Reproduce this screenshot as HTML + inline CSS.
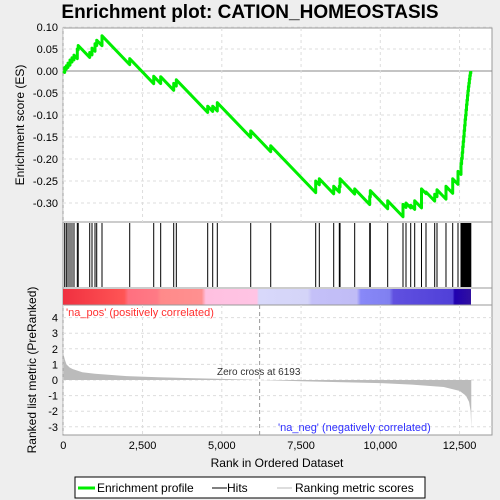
<!DOCTYPE html>
<html><head><meta charset="utf-8"><style>body{margin:0;background:#eeeeee}svg{display:block;font-family:"Liberation Sans",sans-serif}</style></head>
<body>
<svg id="c" width="500" height="500" xmlns="http://www.w3.org/2000/svg">
<text x="250" y="18" text-anchor="middle" font-size="19" font-weight="bold">Enrichment plot: CATION_HOMEOSTASIS</text>
<rect x="63" y="28" width="429" height="194" fill="#fff" stroke="#999"/>
<rect x="63" y="222" width="429" height="66" fill="#fff" stroke="#999"/>
<defs><linearGradient id="rb" x1="0" x2="1">
<stop offset="0" stop-color="#f03040"/><stop offset="0.15" stop-color="#ff5555"/><stop offset="0.16" stop-color="#ff7080"/><stop offset="0.23" stop-color="#ff7a85"/><stop offset="0.24" stop-color="#ff8a8a"/><stop offset="0.34" stop-color="#ff9090"/><stop offset="0.35" stop-color="#ffc0e0"/><stop offset="0.475" stop-color="#ffc4e4"/><stop offset="0.48" stop-color="#d8d8fa"/><stop offset="0.6" stop-color="#d4d4f8"/><stop offset="0.61" stop-color="#c4c0f8"/><stop offset="0.72" stop-color="#c0bcf6"/><stop offset="0.73" stop-color="#8888f8"/><stop offset="0.8" stop-color="#8080f0"/><stop offset="0.81" stop-color="#6050e0"/><stop offset="0.955" stop-color="#5040d8"/><stop offset="0.96" stop-color="#2000b0"/><stop offset="1" stop-color="#3010a0"/></linearGradient></defs>
<rect x="63" y="288" width="429" height="17" fill="#fff" stroke="#999"/>
<rect x="63" y="289" width="408" height="16" fill="url(#rb)"/>
<rect x="63" y="305" width="429" height="130" fill="#fff" stroke="#999"/>
<g id="g"></g>
<text x="66" y="316" font-size="11" fill="#ff3030">'na_pos' (positively correlated)</text>
<text x="278" y="431" font-size="11" fill="#3030ff">'na_neg' (negatively correlated)</text>
<text x="217" y="375" font-size="10" fill="#333">Zero cross at 6193</text>
<text x="0" y="0" transform="translate(24,125) rotate(-90)" text-anchor="middle" font-size="12">Enrichment score (ES)</text>
<text x="0" y="0" transform="translate(36,370) rotate(-90)" text-anchor="middle" font-size="12">Ranked list metric (PreRanked)</text>
<text x="277" y="467" text-anchor="middle" font-size="12">Rank in Ordered Dataset</text>
<g>
<rect x="75" y="477" width="350" height="21" fill="#fff" stroke="#000"/>
<line x1="78" y1="488" x2="95" y2="488" stroke="#00ee00" stroke-width="3"/>
<text x="97" y="492" font-size="12">Enrichment profile</text>
<line x1="212" y1="488" x2="227" y2="488" stroke="#000"/>
<text x="227" y="492" font-size="12">Hits</text>
<line x1="277" y1="488" x2="292" y2="488" stroke="#bbb"/>
<text x="295" y="492" font-size="12">Ranking metric scores</text>
</g>
</svg>
<script>
const hitRanks=[44,95,148,211,274,337,442,470,833,905,1000,1054,1221,2095,2852,3072,3483,3565,4555,4713,4858,5912,6543,7962,8076,8530,8707,8730,9192,9666,9685,10233,10716,10811,10959,11085,11300,11442,11716,11789,12072,12284,12451,12546,12565,12585,12600,12615,12630,12645,12660,12675,12690,12705,12720,12735,12750,12765,12780,12795,12810,12825,12840,12855];
const esAfter=[0.008,0.012,0.018,0.025,0.03,0.036,0.05,0.058,0.042,0.052,0.062,0.07,0.08,0.028,-0.012,-0.013,-0.028,-0.02,-0.08,-0.08,-0.072,-0.136,-0.17,-0.25,-0.245,-0.262,-0.262,-0.245,-0.268,-0.285,-0.272,-0.295,-0.303,-0.3,-0.305,-0.295,-0.268,-0.275,-0.28,-0.27,-0.262,-0.245,-0.228,-0.21,-0.198,-0.185,-0.172,-0.16,-0.148,-0.135,-0.123,-0.11,-0.1,-0.088,-0.076,-0.066,-0.055,-0.045,-0.035,-0.027,-0.018,-0.01,-0.004,0];
const metricRanks=[0,50,100,200,300,600,1000,2000,3000,4000,5000,6193,7500,9000,10000,11000,12000,12500,12700,12800,12850,12870];
const metricVals=[1.7,1.3,1.0,0.8,0.7,0.5,0.4,0.25,0.18,0.12,0.07,0,-0.08,-0.15,-0.2,-0.3,-0.45,-0.7,-1.0,-1.4,-2.0,-3.1];
const esTicks=[0.10,0.05,0.00,-0.05,-0.10,-0.15,-0.20,-0.25,-0.30];
const mTicks=[4,3,2,1,0,-1,-2,-3];
const xTicks=[0,2500,5000,7500,10000,12500];
const xTickLabels=["0","2,500","5,000","7,500","10,000","12,500"];
const N=12870, drop=7.5e-5;
const X=r=>63.3+r*0.0317, Y=v=>71-v*440, M=v=>380-v*15.6;
const NS="http://www.w3.org/2000/svg", g=document.getElementById('g');
function mk(t,a){const e=document.createElementNS(NS,t);for(const k in a)e.setAttribute(k,a[k]);g.appendChild(e);return e;}
esTicks.forEach(v=>{const e=mk('line',{x1:63,x2:492,y1:Y(v),y2:Y(v),stroke:v===0?'#888':'#ddd','stroke-dasharray':v===0?'':'3,3'});


const t=mk('text',{x:58,y:Y(v)+4,'text-anchor':'end','font-size':11});t.textContent=v.toFixed(2);

});
mTicks.forEach(v=>{const e=mk('line',{x1:63,x2:492,y1:M(v),y2:M(v),stroke:'#ddd','stroke-dasharray':'3,3'});


const t=mk('text',{x:58,y:M(v)+4,'text-anchor':'end','font-size':11});t.textContent=v;

});
xTicks.forEach((r,i)=>{[[28,222],[305,435]].forEach(([a,b])=>{const e=mk('line',{x1:X(r),x2:X(r),y1:a,y2:b,stroke:'#ddd','stroke-dasharray':'3,3'});

});
const t=mk('text',{x:X(r),y:449,'text-anchor':'middle','font-size':11});t.textContent=xTickLabels[i];

});
const zl=mk('line',{x1:X(6193),x2:X(6193),y1:305,y2:435,stroke:'#999','stroke-dasharray':'4,3'});


// metric area
let d='M'+X(0)+','+M(0);
metricRanks.forEach((r,i)=>{d+=' L'+X(r)+','+M(metricVals[i]);});
d+=' L'+X(N)+','+M(0)+'Z';
const ar=mk('path',{d:d,fill:'#bbb'});


// hits
hitRanks.forEach(r=>{const e=mk('line',{x1:X(r),x2:X(r),y1:223,y2:287,stroke:'#000','stroke-width':1});

});
// ES line
let pts=[[X(0),Y(0)]],prev=0,pr=0;
hitRanks.forEach((r,i)=>{const before=prev-drop*(r-pr);pts.push([X(r),Y(before)]);pts.push([X(r),Y(esAfter[i])]);prev=esAfter[i];pr=r;});
const pl=mk('polyline',{points:pts.map(p=>p.join(',')).join(' '),fill:'none',stroke:'#00ee00','stroke-width':3,'stroke-linejoin':'round'});


</script>
</body></html>
